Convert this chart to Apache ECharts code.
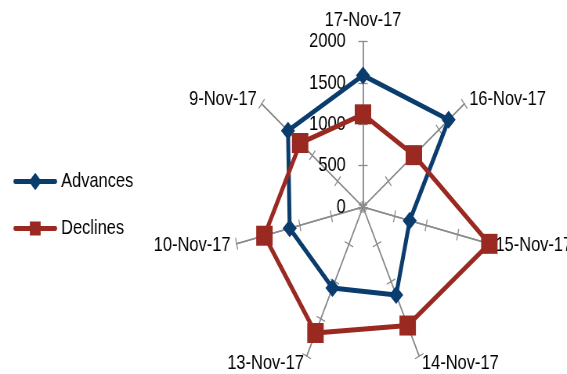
<!DOCTYPE html>
<html>
<head>
<meta charset="utf-8">
<script src="https://cdn.jsdelivr.net/npm/echarts@6/dist/echarts.min.js"></script>
<style>
  html, body { margin: 0; padding: 0; background: #fff; overflow: hidden; }
  #wrap { width: 567px; height: 374px; overflow: hidden; }
  /* the original picture is squeezed horizontally, so draw wide and scale down */
  #chart { width: 724px; height: 374px; transform: scaleX(0.7831); transform-origin: 0 0; }
</style>
</head>
<body>
<div id="wrap"><div id="chart"></div></div>
<script>
// dates in clockwise order starting from the top
const dates = ['17-Nov-17', '16-Nov-17', '15-Nov-17', '14-Nov-17', '13-Nov-17', '10-Nov-17', '9-Nov-17'];
const advances = [1590, 1690, 740, 1180, 1085, 1160, 1480];
const declines = [1120, 1005, 2000, 1590, 1690, 1560, 1240];
const axisMax = 2000;
const axisStep = 500;

const FONT = "'Liberation Sans', Arial, sans-serif";
const BLUE = '#0b3c6e';
const RED = '#9a2a21';
const GREY = '#8c8c8c';

// echarts goes counter-clockwise, so keep the first one and reverse the rest
const order = [0].concat(dates.map((d, i) => i).slice(1).reverse());
const pick = arr => order.map(i => arr[i]);

const myChart = echarts.init(document.getElementById('chart'));

const indicators = pick(dates).map((name, i) => {
  const ind = { name: name, min: 0, max: axisMax };
  if (i === 0) {
    ind.axisLabel = {
      show: true, fontSize: 21, color: '#000', fontFamily: FONT, margin: 22,
      showMinLabel: true, showMaxLabel: true,
      formatter: v => String(v)
    };
  }
  return ind;
});

const baseRadar = {
  center: [463.5, 207],
  radius: 165.5,
  startAngle: 90,
  splitNumber: axisMax / axisStep,
  shape: 'polygon',
  splitLine: { show: false },
  splitArea: { show: false },
  axisLine: { lineStyle: { color: GREY, width: 1.5 } },
  axisLabel: { show: false }
};

// legend icons: a line with the series marker in the middle
const diamondIcon = 'path://M2,6.5 L22,6.5 L28,0 L34,6.5 L54,6.5 A2.5,2.5 0 0 1 54,11.5 L34,11.5 L28,18 L22,11.5 L2,11.5 A2.5,2.5 0 0 1 2,6.5 Z';
const squareIcon = 'path://M2,6.5 L21,6.5 L21,2 L35,2 L35,6.5 L54,6.5 A2.5,2.5 0 0 1 54,11.5 L35,11.5 L35,16 L21,16 L21,11.5 L2,11.5 A2.5,2.5 0 0 1 2,6.5 Z';

const option = {
  animation: false,
  legend: {
    orient: 'vertical',
    left: 12,
    top: 166,
    itemWidth: 56,
    itemHeight: 18,
    itemGap: 26,
    data: [
      { name: 'Advances', icon: diamondIcon, itemStyle: { color: BLUE } },
      { name: 'Declines', icon: squareIcon, itemStyle: { color: RED } }
    ],
    textStyle: { fontSize: 21, color: '#000', fontFamily: FONT }
  },
  radar: [
    Object.assign({}, baseRadar, {
      indicator: indicators,
      axisName: { color: '#000', fontSize: 21, fontFamily: FONT },
      nameGap: 8,
      axisTick: { show: true, length: 6, lineStyle: { color: GREY, width: 1.3 } }
    }),
    Object.assign({}, baseRadar, {
      indicator: pick(dates).map(() => ({ name: '', min: 0, max: axisMax })),
      axisName: { show: false },
      axisTick: { show: true, length: -6, lineStyle: { color: GREY, width: 1.3 } }
    })
  ],
  series: [{
    type: 'radar',
    radarIndex: 0,
    data: [
      {
        name: 'Advances',
        value: pick(advances),
        symbol: 'diamond',
        symbolSize: 18,
        itemStyle: { color: BLUE },
        lineStyle: { color: BLUE, width: 5 }
      },
      {
        name: 'Declines',
        value: pick(declines),
        symbol: 'rect',
        symbolSize: [21, 20],
        itemStyle: { color: RED },
        lineStyle: { color: RED, width: 5 }
      }
    ]
  }]
};

myChart.setOption(option);
</script>
</body>
</html>
